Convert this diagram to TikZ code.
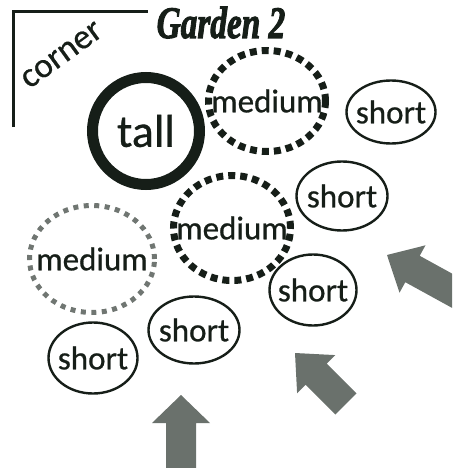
\documentclass[tikz,border=0pt]{standalone}
\usepackage{fontspec}
\setmainfont{Carlito}
\newfontfamily\lblfont[FakeBold=0.7]{Carlito}
\newfontfamily\gardenfont[FakeBold=2.5]{Liberation Serif}
\usetikzlibrary{shapes.geometric}
\definecolor{ink}{RGB}{22,30,24}
\definecolor{arrowgray}{RGB}{106,113,108}
\definecolor{dotgray}{RGB}{112,118,114}
\tikzset{
  lbl/.style={font=\lblfont\fontsize{33}{33}\selectfont, text=ink},
  shortov/.style={ellipse, draw=ink, line width=2.4pt, inner sep=0pt, lbl},
  medov/.style={ellipse, draw=ink, line width=7pt, dash pattern=on 7pt off 5pt, inner sep=0pt, lbl},
  grayov/.style={ellipse, draw=dotgray, line width=5pt, dash pattern=on 5pt off 5.5pt, inner sep=0pt, lbl},
  tallov/.style={circle, draw=ink, line width=11pt, inner sep=0pt, font=\lblfont\fontsize{46}{46}\selectfont, text=ink},
  blockarrow/.style={fill=arrowgray, draw=none},
  cornerline/.style={draw=ink, line width=3pt},
}
\begin{document}
\begin{tikzpicture}[x=1pt,y=-1pt]
\useasboundingbox (0,0) rectangle (452,468);
% corner
\coordinate (cl1) at (13,127);
\coordinate (cl2) at (13,12);
\coordinate (cl3) at (148,12);
\draw[cornerline] (cl1) -- (cl2) -- (cl3);
\node[lbl, font=\lblfont\fontsize{35}{35}\selectfont, rotate=36, anchor=base, inner sep=0pt] (corner) at (67,62) {corner};
% title
\node[anchor=base, inner sep=0pt, text=ink, font=\gardenfont\bfseries\itshape\fontsize{45}{45}\selectfont, xscale=0.74] (title) at (221,38) {Garden 2};
% plants
\node[tallov, minimum size=107pt] (tall) at (146,131) {\makebox[0pt]{tall}};
\node[medov, minimum width=117pt, minimum height=101pt] (med1) at (267,101) {\makebox[0pt]{medium}};
\node[medov, minimum width=117pt, minimum height=105pt] (med2) at (232,228) {\makebox[0pt]{medium}};
\node[grayov, minimum width=125pt, minimum height=107pt] (med3) at (92,259) {\makebox[0pt]{medium}};
\node[shortov, minimum width=89pt, minimum height=63pt] (s1) at (391,112) {\makebox[0pt]{short}};
\node[shortov, minimum width=91pt, minimum height=69pt] (s2) at (342,196) {\makebox[0pt]{short}};
\node[shortov, minimum width=87pt, minimum height=71pt] (s3) at (313,290) {\makebox[0pt]{short}};
\node[shortov, minimum width=91pt, minimum height=67pt] (s4) at (194,330) {\makebox[0pt]{short}};
\node[shortov, minimum width=89pt, minimum height=71pt] (s5) at (93,358) {\makebox[0pt]{short}};
% arrows
\begin{scope}
\clip (0,0) rectangle (452,468);
\fill[blockarrow] (181,395) -- (210,423) -- (196,423) -- (196,470) -- (166,470) -- (166,423) -- (152,423) -- cycle;
\fill[blockarrow] (295,353) -- (335.3,355.1) -- (326.8,363.6) -- (356.5,393.3) -- (335.3,414.5) -- (305.6,384.8) -- (297.1,393.3) -- cycle;
\fill[blockarrow] (387,255) -- (425.5,245.3) -- (419.7,255.8) -- (472.3,284.7) -- (457.9,311.1) -- (405.3,282.2) -- (399.5,292.7) -- cycle;
\end{scope}
\end{tikzpicture}
\end{document}
